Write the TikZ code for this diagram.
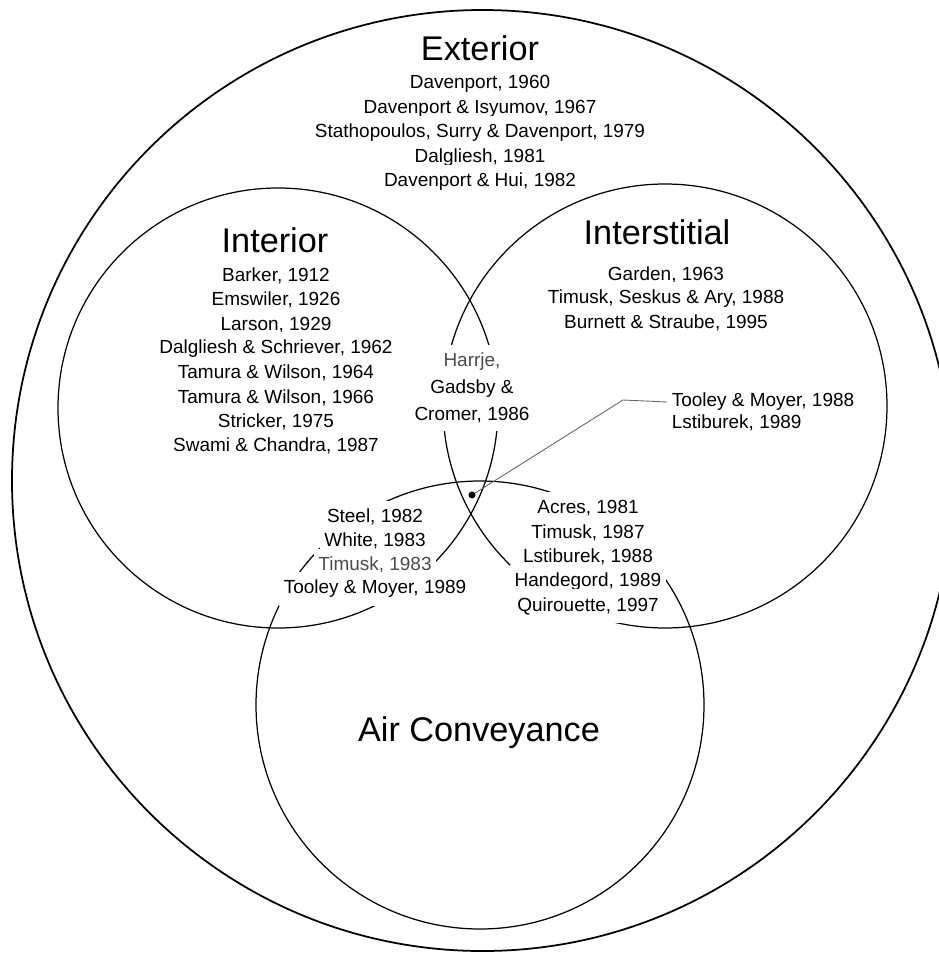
\documentclass[tikz,border=0pt]{standalone}
\usepackage{fontspec}
\setmainfont{Liberation Sans}
\usepackage{tikz}

\begin{document}
\begin{tikzpicture}[x=0.02cm, y=-0.02cm,
    ring/.style={draw, line width=0.7pt},
    heading/.style={font=\fontsize{19.5}{22}\selectfont},
    cite/.style={font=\fontsize{10.8}{13}\selectfont, fill=white, inner xsep=2.5pt, inner ysep=4.5pt},
    faint/.style={text=black!70}]
            \useasboundingbox (0,0) rectangle (938,953);

            \coordinate (ext) at (482.5,480.5);
            \coordinate (int) at (278,408);
            \coordinate (ist) at (665,406);
            \coordinate (air) at (480,705);

            \draw[line width=1pt] (ext) circle (470.5);
            \draw[ring] (int) circle (220);
            \draw[ring] (ist) circle (222);
            \draw[ring] (air) circle (224);

            \node[heading] (exttitle) at (480,48) {Exterior};
            \node[heading] (inttitle) at (275,240) {Interior};
            \node[heading] (isttitle) at (657,232) {Interstitial};
            \node[heading] (airtitle) at (479,733) {Air Conveyance};

            \foreach \txt [count=\i] in {{Davenport, 1960}, {Davenport \& Isyumov, 1967},
                {Stathopoulos, Surry \& Davenport, 1979}, {Dalgliesh, 1981}, {Davenport \& Hui, 1982}}
                \node[cite] (extref\i) at (480, 59.5+24.5*\i) {\txt};

            \foreach \txt [count=\i] in {{Barker, 1912}, {Emswiler, 1926}, {Larson, 1929},
                {Dalgliesh \& Schriever, 1962}, {Tamura \& Wilson, 1964}, {Tamura \& Wilson, 1966},
                {Stricker, 1975}, {Swami \& Chandra, 1987}}
                \node[cite] (intref\i) at (276, 251.7+24.3*\i) {\txt};

            \foreach \txt [count=\i] in {{Garden, 1963}, {Timusk, Seskus \& Ary, 1988}, {Burnett \& Straube, 1995}}
                \node[cite] (istref\i) at (666, 251+24*\i) {\txt};

            \foreach \txt [count=\i] in {{Acres, 1981}, {Timusk, 1987}, {Lstiburek, 1988},
                {Handegord, 1989}, {Quirouette, 1997}}
                \node[cite] (airref\i) at (588, 483.5+24.5*\i) {\txt};

            \node[cite, faint] (mid1) at (472,362) {Harrje,};
            \node[cite] (mid2) at (472,389) {Gadsby \&};
            \node[cite] (mid3) at (472,415) {Cromer, 1986};

            \node[cite] (low1) at (375,517) {Steel, 1982};
            \node[cite] (low2) at (375,541) {White, 1983};
            \node[cite, faint] (low3) at (375,565) {Timusk, 1983};
            \node[cite] (low4) at (375,589) {Tooley \& Moyer, 1989};

            \node[cite, inner ysep=1.5pt, anchor=west] (tm2) at (667,423) {Lstiburek, 1989};
            \node[cite, inner ysep=1.5pt, anchor=west] (tm1) at (667,402) {Tooley \& Moyer, 1988};

            \node[circle, fill=black, inner sep=0pt, minimum size=4pt] (dot) at (472,495) {};
            \draw[black!60, line width=0.5pt] (tm1.west) -- ++(-44,-2) -- (dot);
\end{tikzpicture}
\end{document}
